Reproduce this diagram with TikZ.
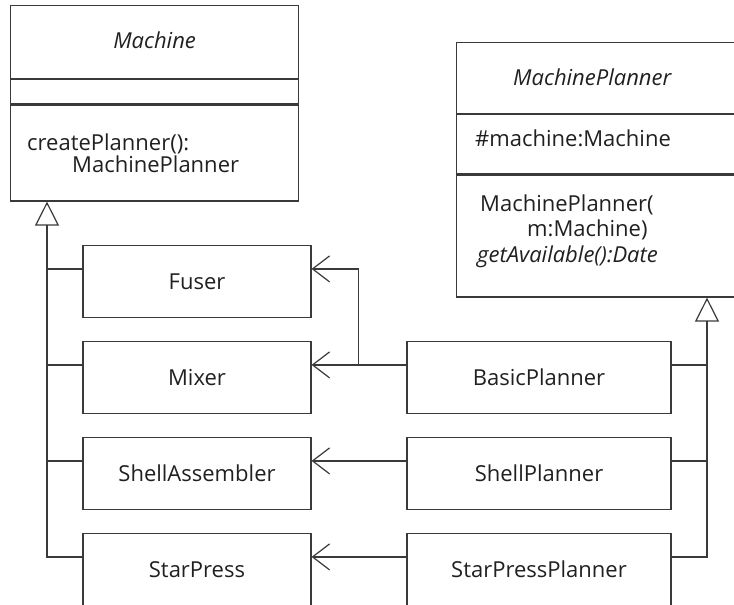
\documentclass[tikz,border=0pt]{standalone}
\usepackage{fontspec}
\setmainfont{Open Sans}
\usepackage{tikz}
\usetikzlibrary{arrows.meta}
\definecolor{umlline}{HTML}{3A3A3A}
\definecolor{umltext}{HTML}{202020}
\tikzset{
    box/.style={draw=umlline, line width=1.2pt, rectangle, minimum width=228pt, minimum height=72pt, inner sep=0pt, align=center, font=\fontsize{22pt}{24pt}\selectfont, text=umltext},
    comp/.style={draw=umlline, line width=1.2pt, rectangle, inner sep=0pt, anchor=north west},
    member/.style={anchor=base west, inner sep=0pt, font=\fontsize{22pt}{24pt}\selectfont, text=umltext},
    link/.style={draw=umlline, line width=1.2pt},
    assoc/.style={link, -{Straight Barb[length=17pt, width=26pt]}},
    inherit/.style={link, -{Triangle[open, length=24pt, width=24pt]}}
}

\begin{document}
\begin{tikzpicture}[x=1pt, y=-1pt, node distance=96pt]
\useasboundingbox (0,0) rectangle (734,605);
\clip (0,0) rectangle (734,605);
% Machine class
\node[comp, minimum width=288pt, minimum height=73pt] (mname) at (10,5) {};
\node[comp, minimum width=288pt, minimum height=24pt] (mattr) at (mname.south west) {};
\node[comp, minimum width=288pt, minimum height=96pt] (mops) at (mattr.south west) {};
\node[member, anchor=base, font=\fontsize{22pt}{24pt}\selectfont\itshape] (mtitle) at ([yshift=-43pt]mname.north) {Machine};
\node[member] (mop1) at ([xshift=17pt, yshift=-46pt]mops.north west) {createPlanner():};
\node[member] (mop2) at ([xshift=62pt, yshift=-68pt]mops.north west) {MachinePlanner};
% MachinePlanner class
\node[comp, minimum width=310pt, minimum height=71pt] (pname) at (456,42) {};
\node[comp, minimum width=310pt, minimum height=59pt] (pattr) at (pname.south west) {};
\node[comp, minimum width=310pt, minimum height=122pt] (pops) at (pattr.south west) {};
\node[member, font=\fontsize{22pt}{24pt}\selectfont\itshape] (ptitle) at ([xshift=57pt, yshift=-43pt]pname.north west) {MachinePlanner};
\node[member] (pat1) at ([xshift=19pt, yshift=-32pt]pattr.north west) {\#machine:Machine};
\node[member] (pop1) at ([xshift=24pt, yshift=-37pt]pops.north west) {MachinePlanner(};
\node[member] (pop2) at ([xshift=71pt, yshift=-62pt]pops.north west) {m:Machine)};
\node[member, font=\fontsize{22pt}{24pt}\selectfont\itshape] (pop3) at ([xshift=21pt, yshift=-88pt]pops.north west) {getAvailable():Date};
% machines
\node[box] (fuser) at (197,281.5) {Fuser};
\node[box, below of=fuser] (mixer) {Mixer};
\node[box, below of=mixer] (shellasm) {ShellAssembler};
\node[box, below of=shellasm] (starpress) {StarPress};
% planners
\node[box, minimum width=264pt] (basic) at (539,377.5) {BasicPlanner};
\node[box, minimum width=264pt, below of=basic] (shellpl) {ShellPlanner};
\node[box, minimum width=264pt, below of=shellpl] (starpl) {StarPressPlanner};
% connection points
\coordinate (mtip) at ([xshift=37pt]mops.south west);
\coordinate (ptip) at ([xshift=251pt]pops.south west);
\coordinate (fuserw) at ([yshift=-24pt]fuser.north west);
\coordinate (mixerw) at ([yshift=-24pt]mixer.north west);
\coordinate (shellasmw) at ([yshift=-24pt]shellasm.north west);
\coordinate (starpressw) at ([yshift=-24pt]starpress.north west);
\coordinate (basice) at ([yshift=-24pt]basic.north east);
\coordinate (shellple) at ([yshift=-24pt]shellpl.north east);
\coordinate (starple) at ([yshift=-24pt]starpl.north east);
\coordinate (fork) at ([xshift=-48pt, yshift=-24pt]basic.north west);
% generalisation
\draw[inherit] (starpressw) -| (mtip);
\draw[link] (fuserw) -- (fuserw -| mtip);
\draw[link] (mixerw) -- (mixerw -| mtip);
\draw[link] (shellasmw) -- (shellasmw -| mtip);
\draw[inherit] (starple) -| (ptip);
\draw[link] (basice) -- (basice -| ptip);
\draw[link] (shellple) -- (shellple -| ptip);
% navigability
\draw[assoc] ([yshift=-24pt]basic.north west) -- ([yshift=-24pt]mixer.north east);
\draw[assoc] (fork) |- ([yshift=-24pt]fuser.north east);
\draw[assoc] ([yshift=-24pt]shellpl.north west) -- ([yshift=-24pt]shellasm.north east);
\draw[assoc] ([yshift=-24pt]starpl.north west) -- ([yshift=-24pt]starpress.north east);
\end{tikzpicture}
\end{document}
